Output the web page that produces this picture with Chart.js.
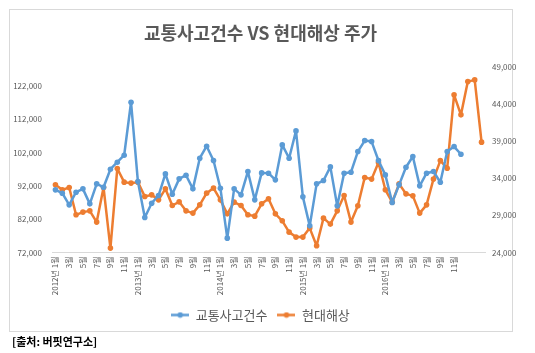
<!DOCTYPE html>
<html><head><meta charset="utf-8">
<script src="https://cdn.jsdelivr.net/npm/chart.js@4.4.1/dist/chart.umd.min.js"></script>
<style>
html,body{margin:0;padding:0;background:#fff;width:535px;height:353px;overflow:hidden;}
#frame{position:absolute;left:9px;top:9px;width:504px;height:323px;box-sizing:border-box;border:1px solid #D9D9D9;}
#c{position:absolute;left:0;top:0;}
#src{position:absolute;left:12px;top:333px;font:bold 11px "Noto Sans CJK KR";color:#000;white-space:nowrap;}
</style></head><body>
<div id="frame"></div>
<canvas id="c" width="521" height="353"></canvas>
<div id="src">[출처: 버핏연구소]</div>
<script>
const categories = [
 "2012년 1월","2월","3월","4월","5월","6월","7월","8월","9월","10월","11월","12월",
 "2013년 1월","2월","3월","4월","5월","6월","7월","8월","9월","10월","11월","12월",
 "2014년 1월","2월","3월","4월","5월","6월","7월","8월","9월","10월","11월","12월",
 "2015년 1월","2월","3월","4월","5월","6월","7월","8월","9월","10월","11월","12월",
 "2016년 1월","2월","3월","4월","5월","6월","7월","8월","9월","10월","11월","12월",
 "","",""
];
const seriesNames = ["교통사고건수","현대해상"];
const accidents = [
 90800,89800,86300,90100,91100,86600,92600,91600,97000,99100,101200,117100,
 93300,82500,86800,89100,95600,89500,94100,95200,91100,100300,103900,99600,
 91300,76300,91100,89300,96300,87800,95900,95800,93800,104300,100300,108500,
 88700,80000,92600,93600,97700,86000,95800,96100,102300,105600,105300,99600,
 95300,87000,92300,97600,100800,92000,95800,96300,93100,102300,103800,101500
];
const hmStock = [
 33100,32430,32740,29070,29430,29600,28090,32740,24590,35290,33460,33330,
 33460,31530,31750,31080,32560,30320,30810,29600,29300,30410,31980,32660,
 31080,29200,30770,30320,29070,28890,30550,31220,29200,28260,26740,26070,
 26070,27280,24900,28620,27820,29600,31660,28090,30280,34080,33870,36100,
 32430,30770,33230,31890,31620,29300,30410,33870,36360,35340,45200,42510,
 46980,47210,38840
];
const leftTicks = [72000,82000,92000,102000,112000,122000];
const rightTicks = [24000,29000,34000,39000,44000,49000];
const colors = ["#5B9BD5","#ED7D31"];

const FONT = '"Noto Sans CJK KR", "Noto Sans", sans-serif';
const GREY = '#595959';

function marker(color){
  const m = document.createElement('canvas');
  m.width = 18; m.height = 7;
  const g = m.getContext('2d');
  g.strokeStyle = color; g.lineWidth = 2.5;
  g.beginPath(); g.moveTo(0,3.5); g.lineTo(18,3.5); g.stroke();
  g.fillStyle = color; g.beginPath(); g.arc(9,3.5,2.8,0,Math.PI*2); g.fill();
  return m;
}
const markers = colors.map(marker);

function ds(i, data, axis){
  return {label: seriesNames[i], data: data, yAxisID: axis, borderColor: colors[i], backgroundColor: colors[i],
    borderWidth: 2.5, borderJoinStyle: 'round', borderCapStyle: 'round',
    pointRadius: 2.8, pointBorderWidth: 0, pointBackgroundColor: colors[i], tension: 0};
}

new Chart(document.getElementById('c'), {
  type: 'line',
  data: {
    labels: categories,
    datasets: [ds(0, accidents, 'y'), ds(1, hmStock, 'y2')]
  },
  options: {
    responsive: false,
    animation: false,
    devicePixelRatio: 1,
    layout: {padding: {left: 0, right: 0, top: 0, bottom: 21.5}},
    plugins: {
      tooltip: {enabled: false},
      title: {display: true, text: '교통사고건수 VS 현대해상 주가', color: GREY,
        font: {family: FONT, size: 18, weight: 'bold', lineHeight: 1.2}, padding: {top: 22, bottom: 23}},
      legend: {position: 'bottom', labels: {
        usePointStyle: true, pointStyleWidth: 18, padding: 10, color: GREY,
        font: {family: FONT, size: 13},
        generateLabels: (chart) => {
          const items = Chart.defaults.plugins.legend.labels.generateLabels(chart);
          items.forEach((it, i) => { it.pointStyle = markers[i]; });
          return items;
        }
      }}
    },
    scales: {
      x: {
        type: 'category', offset: true,
        grid: {display: false, drawTicks: false},
        border: {display: true, color: '#D9D9D9', width: 1},
        ticks: {autoSkip: false, minRotation: 90, maxRotation: 90, padding: 4, color: GREY,
          font: {family: FONT, size: 8},
          callback: function(v, i){ return i % 2 === 0 ? categories[i] : ''; }},
        afterFit: s => { s.height = 46; }
      },
      y: {
        position: 'left', min: 72000, max: 127800,
        grid: {display: false, drawTicks: false},
        border: {display: false},
        afterBuildTicks: s => { s.ticks = leftTicks.map(v => ({value: v})); },
        ticks: {padding: 10, color: GREY, font: {family: FONT, size: 8},
          callback: v => v.toLocaleString('en-US')},
        afterFit: s => { s.width = 52; }
      },
      y2: {
        position: 'right', min: 24000, max: 49000,
        grid: {display: false, drawTicks: false},
        border: {display: false},
        afterBuildTicks: s => { s.ticks = rightTicks.map(v => ({value: v})); },
        ticks: {padding: 7, color: GREY, font: {family: FONT, size: 8},
          callback: v => v.toLocaleString('en-US')},
        afterFit: s => { s.width = 36; }
      }
    }
  }
});
</script>
</body></html>
